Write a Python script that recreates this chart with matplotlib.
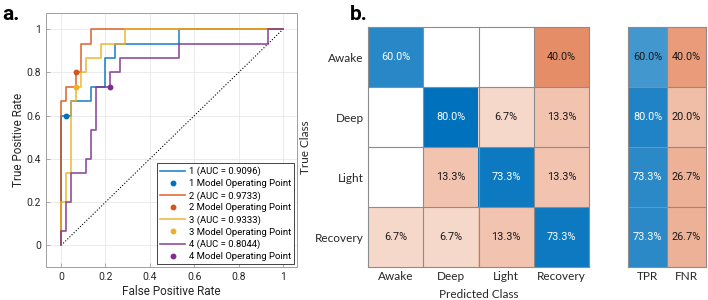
import numpy as np
import matplotlib
matplotlib.use('Agg')
import matplotlib.pyplot as plt
from matplotlib.colors import LinearSegmentedColormap, PowerNorm

# ---- panel a: ROC curves ----
roc_names = ['1', '2', '3', '4']
roc_auc = [0.9096, 0.9733, 0.9333, 0.8044]
fpr1 = [0, 0, 0.044, 0.044, 0.133, 0.133, 0.2, 0.2, 0.244, 0.244, 0.533, 0.533, 1]
tpr1 = [0, 0.6, 0.6, 0.667, 0.667, 0.733, 0.733, 0.867, 0.867, 0.933, 0.933, 1, 1]
fpr2 = [0, 0, 0.022, 0.022, 0.067, 0.067, 0.089, 0.089, 0.133, 0.133, 1]
tpr2 = [0, 0.667, 0.667, 0.733, 0.733, 0.8, 0.8, 0.933, 0.933, 1, 1]
fpr3 = [0, 0, 0.022, 0.022, 0.044, 0.044, 0.067, 0.067, 0.089, 0.089, 0.111, 0.111, 0.178, 0.178, 0.289, 0.289, 1]
tpr3 = [0, 0.2, 0.2, 0.333, 0.333, 0.667, 0.667, 0.733, 0.733, 0.8, 0.8, 0.867, 0.867, 0.933, 0.933, 1, 1]
fpr4 = [0, 0, 0.022, 0.022, 0.044, 0.044, 0.111, 0.111, 0.133, 0.133, 0.156, 0.156, 0.222, 0.222, 0.267, 0.267, 0.533, 0.533, 0.933, 0.933, 1]
tpr4 = [0, 0.067, 0.067, 0.2, 0.2, 0.333, 0.333, 0.4, 0.4, 0.533, 0.533, 0.733, 0.733, 0.8, 0.8, 0.867, 0.867, 0.933, 0.933, 1, 1]
op_fpr = [0.022, 0.067, 0.067, 0.222]
op_tpr = [0.6, 0.8, 0.733, 0.733]

# ---- panel b: confusion matrix (row-normalised %) ----
classes = ['Awake', 'Deep', 'Light', 'Recovery']
cm = np.array([[60.0, 0.0, 0.0, 40.0],
               [0.0, 80.0, 6.7, 13.3],
               [0.0, 13.3, 73.3, 13.3],
               [6.7, 6.7, 13.3, 73.3]])
tpr_col = [60.0, 80.0, 73.3, 73.3]
fnr_col = [40.0, 20.0, 26.7, 26.7]
summary_labels = ['TPR', 'FNR']

colors = ['#0072BD', '#D95319', '#EDB120', '#7E2F8E']
fprs = [fpr1, fpr2, fpr3, fpr4]
tprs = [tpr1, tpr2, tpr3, tpr4]

plt.rcParams['font.family'] = ['Roboto', 'DejaVu Sans']
lab_font = ['Lato', 'DejaVu Sans']

fig = plt.figure(figsize=(7.08, 3.0), dpi=100)
ax1 = fig.add_axes([46/708, 33/300, 251/708, 254/300])

ax1.plot([0, 1], [0, 1], ':', color='k', lw=0.8, zorder=1)
for i in range(4):
    ax1.plot(fprs[i], tprs[i], color=colors[i], lw=1.2, alpha=0.85,
             label='%s (AUC = %.4f)' % (roc_names[i], roc_auc[i]), zorder=2)
    ax1.plot(op_fpr[i], op_tpr[i], 'o', color=colors[i], ms=3.2, ls='none',
             label='%s Model Operating Point' % roc_names[i], zorder=3)

ax1.set_xlim(-0.068, 1.063)
ax1.set_ylim(-0.1, 1.075)
ax1.set_xticks([0, 0.2, 0.4, 0.6, 0.8, 1])
ax1.set_xticklabels(['0', '0.2', '0.4', '0.6', '0.8', '1'])
ax1.set_yticks([0, 0.2, 0.4, 0.6, 0.8, 1])
ax1.set_yticklabels(['0', '0.2', '0.4', '0.6', '0.8', '1'])
ax1.grid(True, color='#e8e8e8', lw=0.6)
ax1.set_axisbelow(True)
ax1.tick_params(direction='in', length=3, width=0.6, colors='#a0a0a0',
                labelcolor='#262626', labelsize=7.5)
for s in ax1.spines.values():
    s.set_color('#a0a0a0')
    s.set_linewidth(0.7)
ax1.set_xlabel('False Positive Rate', fontsize=8.5, color='#262626', labelpad=2)
ax1.set_ylabel('True Positive Rate', fontsize=8.5, color='#262626', labelpad=1)
leg = ax1.legend(loc='lower right', fontsize=6.8, frameon=True, fancybox=False,
                 framealpha=1, edgecolor='#262626', borderaxespad=0.3,
                 handlelength=2.6, handletextpad=0.4, labelspacing=0.3,
                 borderpad=0.35)
leg.get_frame().set_linewidth(0.6)

# ---- panel b ----
blue_cmap = LinearSegmentedColormap.from_list('bl', ['#ffffff', '#0072BD'])
orange_cmap = LinearSegmentedColormap.from_list('or', ['#ffffff', '#D95319'])
norm_m = PowerNorm(gamma=0.6, vmin=0, vmax=80)
norm_s = PowerNorm(gamma=0.6, vmin=0, vmax=100)

ax2 = fig.add_axes([368/708, 33/300, 221/708, 240/300])
diag = np.eye(4, dtype=bool)
ax2.imshow(np.ma.masked_where(~diag, cm), cmap=blue_cmap, norm=norm_m, aspect='auto')
ax2.imshow(np.ma.masked_where(diag, cm), cmap=orange_cmap, norm=norm_m, aspect='auto')


def txt_color(rgba):
    lum = 0.299*rgba[0] + 0.587*rgba[1] + 0.114*rgba[2]
    return 'white' if lum < 0.49 else '#1a1a1a'


for r in range(4):
    for c in range(4):
        v = cm[r, c]
        if v == 0:
            continue
        cmap = blue_cmap if r == c else orange_cmap
        ax2.text(c, r, '%.1f%%' % v, ha='center', va='center', fontsize=7.8,
                 color=txt_color(cmap(norm_m(v))))

gridc = '#8c8c8c'
for k in np.arange(0.5, 3.5, 1):
    ax2.axhline(k, color=gridc, lw=0.8)
    ax2.axvline(k, color=gridc, lw=0.8)
for s in ax2.spines.values():
    s.set_color(gridc)
    s.set_linewidth(0.8)
ax2.set_xticks(range(4))
ax2.set_xticklabels(classes, family=lab_font)
ax2.set_yticks(range(4))
ax2.set_yticklabels(classes, family=lab_font)
ax2.tick_params(length=0, labelsize=8.5, labelcolor='#262626', pad=3)
ax2.set_xlabel('Predicted Class', fontsize=8.5, color='#262626', labelpad=5,
               family=lab_font)
ax2.set_ylabel('True Class', fontsize=8.5, color='#262626', labelpad=3,
               family=lab_font)

ax3 = fig.add_axes([628/708, 33/300, 78/708, 240/300])
summ = np.array([tpr_col, fnr_col]).T
col_mask = np.zeros_like(summ, dtype=bool)
col_mask[:, 0] = True
ax3.imshow(np.ma.masked_where(~col_mask, summ), cmap=blue_cmap, norm=norm_s, aspect='auto')
ax3.imshow(np.ma.masked_where(col_mask, summ), cmap=orange_cmap, norm=norm_s, aspect='auto')
for r in range(4):
    for c in range(2):
        v = summ[r, c]
        cmap = blue_cmap if c == 0 else orange_cmap
        ax3.text(c, r, '%.1f%%' % v, ha='center', va='center', fontsize=7.8,
                 color=txt_color(cmap(norm_s(v))))
for k in np.arange(0.5, 3.5, 1):
    ax3.axhline(k, color=gridc, lw=0.8)
ax3.axvline(0.5, color=gridc, lw=0.8)
for s in ax3.spines.values():
    s.set_color(gridc)
    s.set_linewidth(0.8)
ax3.set_xticks(range(2))
ax3.set_xticklabels(summary_labels, family=lab_font)
ax3.set_yticks([])
ax3.tick_params(length=0, labelsize=8.5, labelcolor='#262626', pad=3)

fig.text(0.003, 0.935, 'a.', fontsize=15, weight='bold')
fig.text(0.494, 0.935, 'b.', fontsize=15, weight='bold')

fig.savefig('out.png', dpi=100)
